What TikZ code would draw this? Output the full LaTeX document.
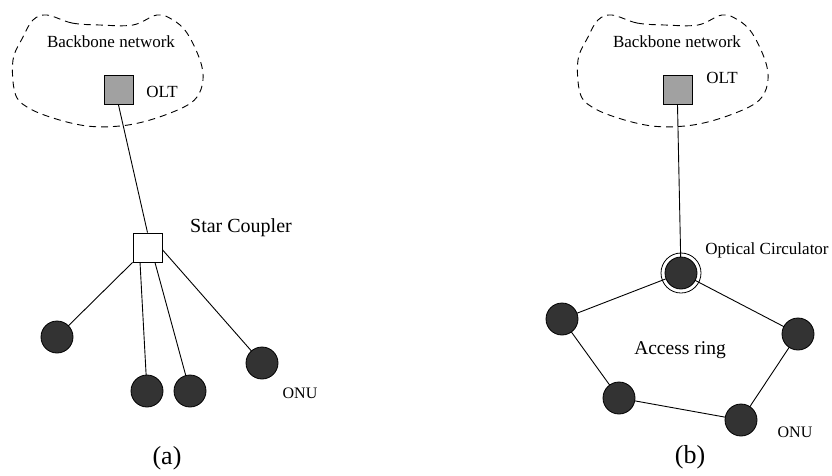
\documentclass[tikz,border=0pt]{standalone}
\usepackage{fontspec}
\setmainfont{Liberation Serif}
\usetikzlibrary{backgrounds,calc}
\tikzset{
  px/.style={x=1pt,y=-1pt},
  link/.style={draw=black,line width=0.9pt},
  cloud/.style={draw=black,line width=0.9pt,dash pattern=on 7pt off 5pt},
  olt/.style={draw=black,line width=0.9pt,fill=black!37,minimum size=29pt,inner sep=0pt},
  coupler/.style={draw=black,line width=0.9pt,fill=white,minimum size=29pt,inner sep=0pt},
  onu/.style={circle,draw=black,line width=0.8pt,fill=black!80,minimum size=32pt,inner sep=0pt},
  ringout/.style={circle,draw=black,line width=0.8pt,minimum size=40pt,inner sep=0pt},
  lbl/.style={inner sep=0pt,font=\fontsize{17}{20}\selectfont},
  biglbl/.style={inner sep=0pt,font=\fontsize{20}{24}\selectfont},
  caplbl/.style={inner sep=0pt,font=\fontsize{26}{30}\selectfont}
}
\begin{document}
\begin{tikzpicture}[px]
\useasboundingbox (0,0) rectangle (832,475);
% clouds
\foreach \s in {0,565}{
\draw[cloud,xshift=\s pt] plot[smooth cycle,tension=0.6] coordinates{
 (47,15) (72,23) (100,25) (133,25) (157,15) (173,20) (187,33) (200,60) (203,80)
 (197,97) (182,108) (150,120) (120,126) (87,126) (53,118) (27,107) (15,93) (13,60) (23,37) (33,20)};
}
% panel (a)
\node[lbl] (bba) at (111,42) {Backbone network};
\node[olt] (olta) at (118.5,90) {};
\node[lbl] (oltta) at (162,92) {OLT};
\node[coupler] (sc) at (147.5,247.5) {};
\node[biglbl] (sct) at (241,228) {Star Coupler};
\node[onu] (a1) at (57,337) {};
\node[onu] (a2) at (147,391) {};
\node[onu] (a3) at (190,391) {};
\node[onu] (a4) at (262,363) {};
\node[lbl,font=\fontsize{16}{19}\selectfont] (onuta) at (300,393) {ONU};
\node[caplbl] (capa) at (167,458) {(a)};
% panel (b)
\node[lbl] (bbb) at (677,42) {Backbone network};
\node[olt] (oltb) at (677.5,90) {};
\node[lbl] (olttb) at (722,78) {OLT};
\node[ringout] (circo) at (681,273) {};
\node[onu] (circ) at (681,273) {};
\node[lbl] (circt) at (767,250) {Optical Circulator};
\node[onu] (b1) at (562,319) {};
\node[onu] (b2) at (798,334) {};
\node[onu] (b3) at (619,398) {};
\node[onu] (b4) at (741,420) {};
\node[lbl,font=\fontsize{16}{19}\selectfont] (onutb) at (795,432) {ONU};
\node[biglbl,font=\fontsize{19.5}{23}\selectfont] (ring) at (680,350) {Access ring};
\node[caplbl] (capb) at (690,457) {(b)};
\begin{pgfonlayer}{background}
\draw[link] (olta.south) -- (sc.north);
\draw[link] (sc.south west) -- (a1.center);
\draw[link] ($(sc.south west)!0.25!(sc.south east)$) -- (a2.center);
\draw[link] ($(sc.south west)!0.75!(sc.south east)$) -- (a3.center);
\draw[link] ($(sc.east)!0.15!(sc.south east)$) -- (a4.center);
\draw[link] (oltb.south) -- (circ.center);
\draw[link] (circ.center) -- (b1.center) -- (b3.center) -- (b4.center) -- (b2.center) -- (circ.center);
\end{pgfonlayer}
\end{tikzpicture}
\end{document}
